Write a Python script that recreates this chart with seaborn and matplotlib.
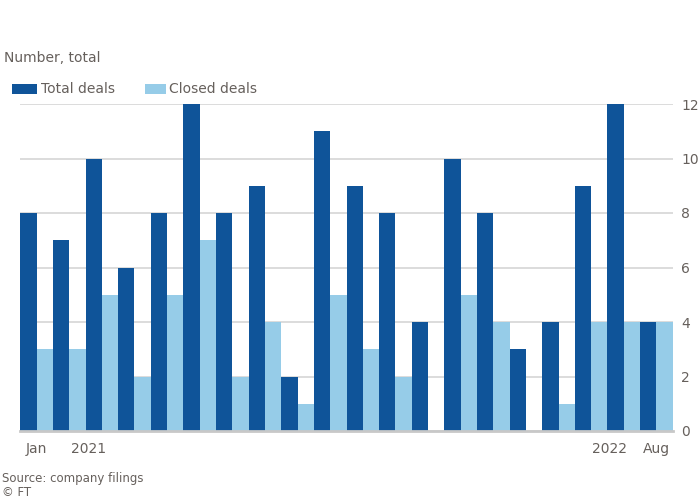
import matplotlib
matplotlib.use("Agg")
import matplotlib.pyplot as plt
import seaborn as sns
import pandas as pd

# ---- data ----
categories = [f"P{i+1}" for i in range(20)]
series_names = ["Total deals", "Closed deals"]
dark_values = [8, 7, 10, 6, 8, 12, 8, 9, 2, 11, 9, 8, 4, 10, 8, 3, 4, 9, 12, 4]
light_values = [3, 3, 5, 2, 5, 7, 2, 4, 1, 5, 3, 2, 0, 5, 4, 0, 1, 4, 4, 4]
y_ticks = [0, 2, 4, 6, 8, 10, 12]
x_label_pos = [0, 1.6, 17.55, 19]
x_label_text = ["Jan", "2021", "2022", "Aug"]
subtitle = "Number, total"
source = "Source: company filings"
credit = "© FT"

df = pd.DataFrame({
    "category": categories * 2,
    "series": [series_names[0]] * len(categories) + [series_names[1]] * len(categories),
    "value": dark_values + light_values,
})

sns.set_theme(style="white")
plt.rcParams["font.family"] = ["DejaVu Sans"]

DARK = "#0f5499"
LIGHT = "#96cce8"
GRID = "#d6d6d6"
TXT = "#66605c"

fig = plt.figure(figsize=(7, 5), dpi=100)
fig.patch.set_facecolor("white")
ax = fig.add_axes([0.029, 0.138, 0.932, 0.654])

sns.barplot(data=df, x="category", y="value", hue="series",
            palette=[DARK, LIGHT], width=1.0, gap=0, linewidth=0,
            saturation=1, ax=ax, legend=False, order=categories)

ax.set_xlim(-0.5, 19.5)
ax.set_ylim(0, 12)
ax.set_yticks(y_ticks)
ax.yaxis.tick_right()
ax.tick_params(axis="y", length=0, pad=6, labelsize=10, labelcolor=TXT)
ax.grid(axis="y", color=GRID, linewidth=1.2)
ax.set_axisbelow(True)
for s in ["top", "left", "right"]:
    ax.spines[s].set_visible(False)
ax.spines["bottom"].set_color("#c8c8c8")
ax.spines["bottom"].set_linewidth(2)
ax.set_xlabel("")
ax.set_ylabel("")

# ticks between categories, labels at chosen positions
ax.set_xticks([i + 0.5 for i in range(-1, 20)], minor=True)
ax.tick_params(axis="x", which="minor", length=5, color="#d6d6d6", width=1)
ax.set_xticks(x_label_pos)
ax.set_xticklabels(x_label_text)
ax.tick_params(axis="x", which="major", length=0, pad=8, labelsize=10, labelcolor=TXT)

# subtitle
fig.text(0.006, 0.885, subtitle, fontsize=10, color=TXT, ha="left", va="center")

# legend
from matplotlib.patches import Rectangle
fig.patches.append(Rectangle((0.017, 0.812), 0.036, 0.02, transform=fig.transFigure,
                             facecolor=DARK, edgecolor="none"))
fig.text(0.058, 0.822, series_names[0], fontsize=10, color=TXT, ha="left", va="center")
fig.patches.append(Rectangle((0.207, 0.812), 0.03, 0.02, transform=fig.transFigure,
                             facecolor=LIGHT, edgecolor="none"))
fig.text(0.242, 0.822, series_names[1], fontsize=10, color=TXT, ha="left", va="center")

# source
fig.text(0.003, 0.043, source, fontsize=8.5, color=TXT, ha="left", va="center")
fig.text(0.003, 0.014, credit, fontsize=8.5, color=TXT, ha="left", va="center")

fig.savefig("out.png", dpi=100, facecolor="white")
